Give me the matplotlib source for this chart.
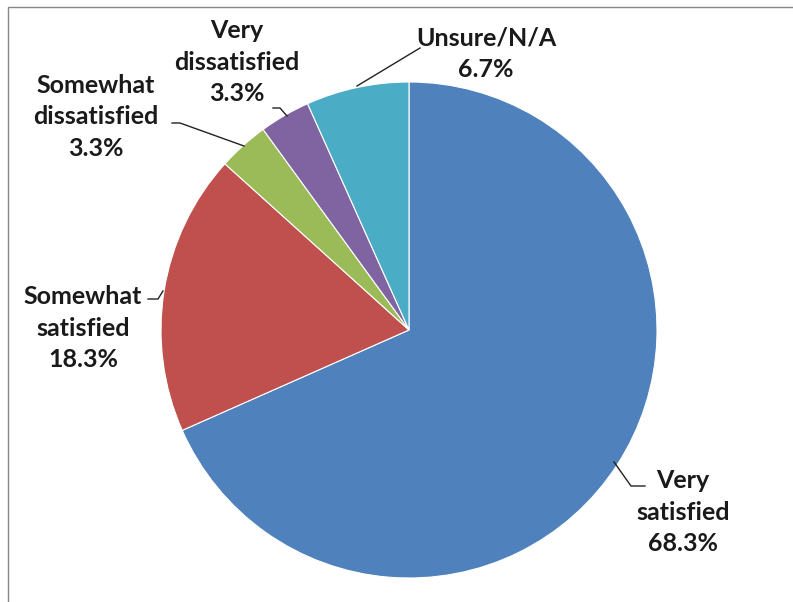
import matplotlib.pyplot as plt
from matplotlib.patches import Rectangle

categories = ["Very\nsatisfied", "Somewhat\nsatisfied", "Somewhat\ndissatisfied",
              "Very\ndissatisfied", "Unsure/N/A"]
shares = [68.3, 18.3, 3.3, 3.3, 6.7]
colors = ["#4F81BD", "#C0504D", "#9BBB59", "#8064A2", "#4BACC6"]

W, H = 793, 602
fig = plt.figure(figsize=(W / 100, H / 100), dpi=100)
ax = fig.add_axes([0, 0, 1, 1])

# pixel-ish layout helpers (y measured from top of image)
def P(x, y):
    return x, H - y

ax.pie(shares, colors=colors, startangle=90, counterclock=False,
       center=P(409, 330), radius=248, frame=True,
       wedgeprops=dict(edgecolor="white", linewidth=0.8))
ax.set_xlim(0, W)
ax.set_ylim(0, H)
ax.set_aspect("equal")
ax.axis("off")

# label anchors (center of text block) and leader lines
label_pos = [P(683, 512), P(83, 328), P(96, 117), P(237, 62), P(486, 54)]
leaders = [
    [P(614, 462), P(631, 486), P(645, 486)],
    [P(148, 299), P(158, 299), P(163, 291)],
    [P(172, 123), P(180, 123), P(244, 146)],
    [P(273, 108), P(280, 108), P(287, 116)],
    [P(357, 86), P(420, 48)],
]

for cat, val, pos, pts in zip(categories, shares, label_pos, leaders):
    ax.text(pos[0], pos[1], f"{cat}\n{val:.1f}%", ha="center", va="center",
            fontsize=18, fontweight="bold", family="Lato",
            linespacing=1.45, color="#1a1a1a")
    xs, ys = zip(*pts)
    ax.plot(xs, ys, color="#222222", linewidth=1)

fig.patches.append(Rectangle((8 / W, -0.01), 1.0, 1 - 7 / H + 0.01,
                             transform=fig.transFigure, fill=False,
                             edgecolor="#888888", linewidth=1))

fig.savefig("out.png", dpi=100)
